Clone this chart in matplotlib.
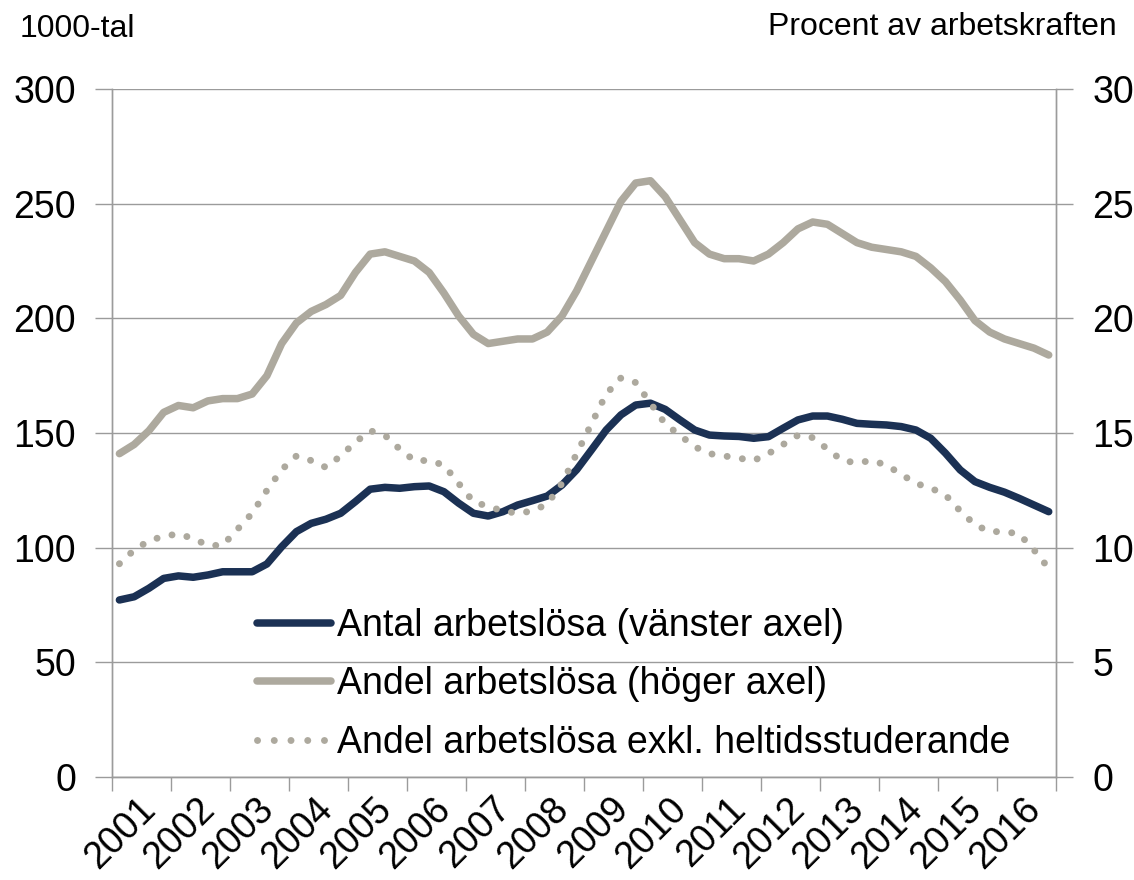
import numpy as np
import matplotlib
matplotlib.use('Agg')
import matplotlib.pyplot as plt
import matplotlib.transforms as mtransforms
from matplotlib.lines import Line2D

plt.rcParams['font.family'] = ['Liberation Sans', 'DejaVu Sans']

# ── Data (quarterly, 2001Q1 - 2016Q4) ─────────────────────────────────────────

years = [str(y) for y in range(2001, 2017)]

# Antal arbetslösa, 1000-tal (vänster axel)
antal = [77.2, 78.6, 82.3, 86.6, 87.7, 87.1, 88.1, 89.5,
         89.5, 89.5, 92.9, 100.4, 107.0, 110.6, 112.4, 115.0,
         120.1, 125.5, 126.3, 125.9, 126.6, 126.9, 124.4, 119.4,
         115.0, 113.8, 115.7, 118.6, 120.5, 122.5, 127.3, 134.0,
         142.6, 151.3, 157.9, 162.2, 163.0, 160.3, 155.7, 151.3,
         149.1, 148.7, 148.5, 147.7, 148.4, 152.1, 155.7, 157.4,
         157.4, 156.0, 154.2, 153.8, 153.5, 152.8, 151.3, 147.7,
         141.2, 133.9, 128.8, 126.3, 124.2, 121.5, 118.6, 115.7]

# Andel arbetslösa, procent (höger axel)
andel = [14.1, 14.5, 15.1, 15.9, 16.2, 16.1, 16.4, 16.5,
         16.5, 16.7, 17.5, 18.9, 19.8, 20.3, 20.6, 21.0,
         22.0, 22.8, 22.9, 22.7, 22.5, 22.0, 21.1, 20.1,
         19.3, 18.9, 19.0, 19.1, 19.1, 19.4, 20.1, 21.2,
         22.5, 23.8, 25.1, 25.9, 26.0, 25.3, 24.3, 23.3,
         22.8, 22.6, 22.6, 22.5, 22.8, 23.3, 23.9, 24.2,
         24.1, 23.7, 23.3, 23.1, 23.0, 22.9, 22.7, 22.2,
         21.6, 20.8, 19.9, 19.4, 19.1, 18.9, 18.7, 18.4]

# Andel arbetslösa exkl. heltidsstuderande, procent (höger axel)
andel_exkl = [9.3, 9.9, 10.3, 10.5, 10.6, 10.4, 10.1, 10.1,
              10.8, 11.5, 12.5, 13.4, 14.0, 13.8, 13.5, 14.0,
              14.6, 15.1, 14.9, 14.3, 13.8, 13.8, 13.6, 12.8,
              12.0, 11.8, 11.6, 11.5, 11.6, 11.9, 12.8, 14.1,
              15.4, 16.7, 17.4, 17.2, 16.3, 15.4, 14.9, 14.4,
              14.1, 14.0, 13.9, 13.8, 14.1, 14.5, 14.9, 14.8,
              14.3, 13.8, 13.7, 13.8, 13.6, 13.2, 12.8, 12.6,
              12.3, 11.6, 11.0, 10.7, 10.7, 10.6, 9.9, 9.1]

labels = ['Antal arbetslösa (vänster axel)',
          'Andel arbetslösa (höger axel)',
          'Andel arbetslösa exkl. heltidsstuderande']

NAVY = '#1B3154'
GRAY = '#ADA99E'
GRID = '#9B9B9B'
FS = 27

# ── Plot ──────────────────────────────────────────────────────────────────────

x = (np.arange(len(antal)) + 0.5) / 4.0

fig = plt.figure(figsize=(11.34, 8.8), dpi=100)
ax = fig.add_axes([0.0988, 0.117, 0.8325, 0.7819])
ax2 = ax.twinx()

ax.plot(x, antal, color=NAVY, lw=5.4, solid_capstyle='round', solid_joinstyle='round')
ax2.plot(x, andel, color=GRAY, lw=5.4, solid_capstyle='round', solid_joinstyle='round')
ax2.plot(x, andel_exkl, color=GRAY, lw=5.0, dashes=(0.01, 2.2),
         dash_capstyle='round')

ax.set_xlim(0, 16)
ax.set_ylim(0, 300)
ax2.set_ylim(0, 30)
ax.set_yticks(range(0, 301, 50))
ax2.set_yticks(range(0, 31, 5))

ax.grid(axis='y', color=GRID, lw=1.0)
ax.set_axisbelow(True)

for a in (ax, ax2):
    a.spines['top'].set_visible(False)
    for s in ('left', 'right', 'bottom'):
        a.spines[s].set_color(GRID)
        a.spines[s].set_linewidth(1.0)

ax.tick_params(axis='y', which='major', length=12, width=1.0, color=GRID,
               labelsize=FS, pad=14)
ax2.tick_params(axis='y', which='major', length=12, width=1.0, color=GRID,
                labelsize=FS, pad=14)

# year boundaries as ticks, labels at year centres
ax.set_xticks(range(0, 17))
ax.set_xticklabels([])
ax.set_xticks(np.arange(16) + 0.5, minor=True)
ax.set_xticklabels(years, minor=True, rotation=45, ha='right', va='center',
                   rotation_mode='anchor')
ax.tick_params(axis='x', which='major', length=10, width=1.0, color=GRID)
ax.tick_params(axis='x', which='minor', length=0, labelsize=FS, pad=19)
offset = mtransforms.ScaledTranslation(9 / 100, 0, fig.dpi_scale_trans)
for lab in ax.get_xticklabels(minor=True):
    lab.set_transform(lab.get_transform() + offset)

fig.text(20 / 1134, 1 - 37 / 880, '1000-tal', fontsize=23, ha='left', va='baseline')
fig.text(1117 / 1134, 1 - 35 / 880, 'Procent av arbetskraften', fontsize=23,
         ha='right', va='baseline')

handles = [
    Line2D([], [], color=NAVY, lw=5.4, solid_capstyle='round'),
    Line2D([], [], color=GRAY, lw=5.4, solid_capstyle='round'),
    Line2D([], [], color=GRAY, lw=5.0, dashes=(0.01, 2.4), dash_capstyle='round'),
]
ax2.legend(handles, labels, loc='center left', bbox_to_anchor=(0.1536, 0.135),
           frameon=False, fontsize=FS, handlelength=1.97, handletextpad=0.17,
           labelspacing=0.6, borderpad=0, borderaxespad=0)

fig.savefig('out.png', dpi=100)
